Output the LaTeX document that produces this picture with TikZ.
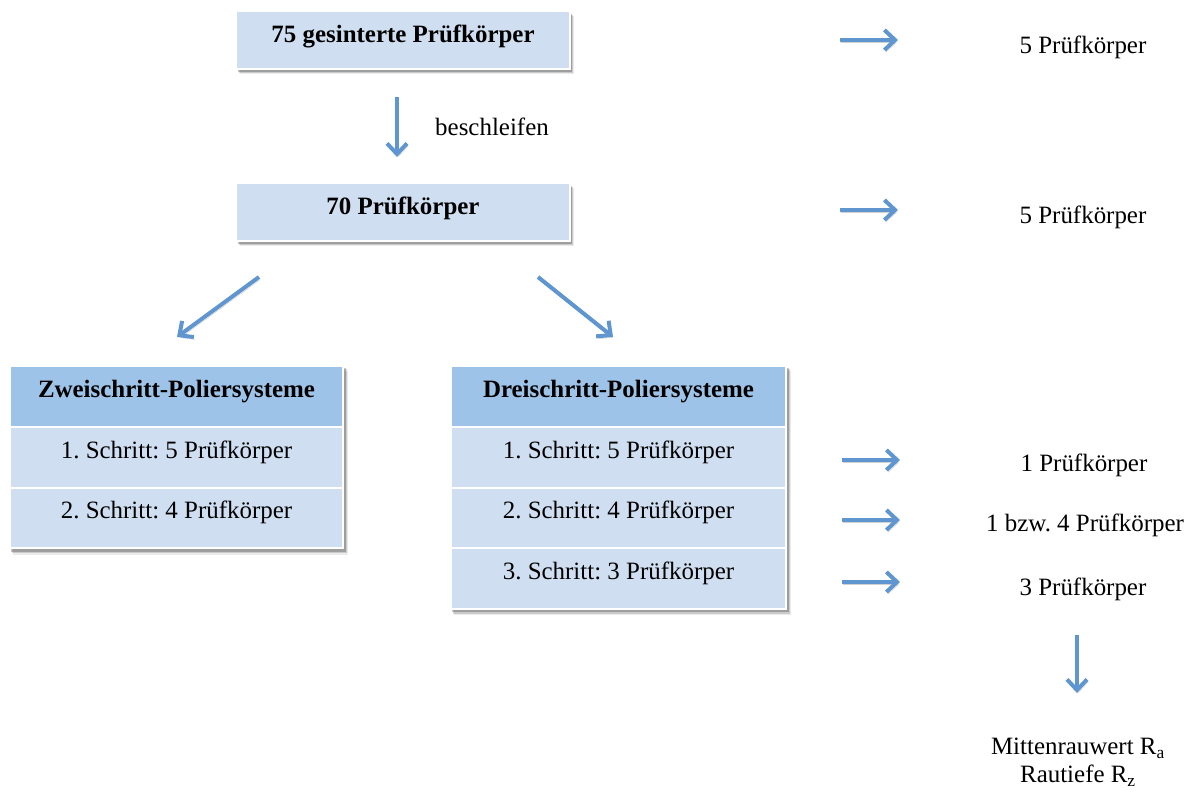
\documentclass[tikz,border=0pt]{standalone}
\usepackage{fontspec}
\setmainfont{Liberation Serif}
\usetikzlibrary{arrows.meta,shadows,backgrounds,fit}
\frenchspacing

\definecolor{cellfill}{RGB}{207,223,241}
\definecolor{headfill}{RGB}{158,195,232}
\definecolor{arrowblue}{RGB}{96,150,208}

\newcommand\bodysize{\fontsize{18.7pt}{21pt}\selectfont}

\tikzset{
  softshadow/.style={
    drop shadow={shadow xshift=1.2pt, shadow yshift=-2pt, opacity=.22, fill=black},
    drop shadow={shadow xshift=2.2pt, shadow yshift=-3pt, opacity=.14, fill=black},
    drop shadow={shadow xshift=3.2pt, shadow yshift=-4pt, opacity=.08, fill=black}},
  topbox/.style={rectangle, draw=white, line width=1.2pt, fill=cellfill,
    minimum width=250.5pt, minimum height=43.5pt, inner sep=0pt,
    font=\bodysize\bfseries, text height=0.7em, text depth=0.3em, softshadow},
  cell/.style={rectangle, draw=white, line width=1.5pt, fill=cellfill,
    minimum height=45.4pt, inner sep=0pt,
    font=\bodysize, text height=0.7em, text depth=0.6em},
  headcell/.style={cell, fill=headfill, font=\bodysize\bfseries},
  tabshadow/.style={rectangle, fill=white, draw=none, inner sep=0pt, softshadow},
  note/.style={font=\bodysize, inner sep=0pt, align=center},
  flowarrow/.style={draw=arrowblue, line width=3pt,
    -{Straight Barb[length=8pt,width=15pt]},
    preaction={draw=black, opacity=.18,
      transform canvas={shift={(1pt,-1.8pt)}}}}
}

\begin{document}
\begin{tikzpicture}[x=0.75pt,y=-0.75pt]
  \useasboundingbox (0,0) rectangle (1195,794);

  % main flow boxes
  \node[topbox] (sintered) at (403,40) {75 gesinterte Prüfkörper};
  \node[topbox] (ground) at (403,212) {70 Prüfkörper};

  % two-step polishing table
  \node[headcell, minimum width=249.75pt] (twohead) at (176.5,396.5) {Zweischritt-Poliersysteme};
  \node[cell, minimum width=249.75pt] (twoA) at (176.5,457.5) {1. Schritt: 5 Prüfkörper};
  \node[cell, minimum width=249.75pt] (twoB) at (176.5,518) {2. Schritt: 4 Prüfkörper};

  % three-step polishing table
  \node[headcell, minimum width=251.25pt] (threehead) at (618.5,396.5) {Dreischritt-Poliersysteme};
  \node[cell, minimum width=251.25pt] (threeA) at (618.5,457.5) {1. Schritt: 5 Prüfkörper};
  \node[cell, minimum width=251.25pt] (threeB) at (618.5,518) {2. Schritt: 4 Prüfkörper};
  \node[cell, minimum width=251.25pt] (threeC) at (618.5,578.5) {3. Schritt: 3 Prüfkörper};

  \begin{scope}[on background layer]
    \node[tabshadow, fit=(twohead)(twoB)] (twotab) {};
    \node[tabshadow, fit=(threehead)(threeC)] (threetab) {};
  \end{scope}

  % side notes
  \node[note] (n1) at (1083,47.5) {5 Prüfkörper};
  \node[note] (n2) at (1083,217.5) {5 Prüfkörper};
  \node[note] (n3) at (1084,465.5) {1 Prüfkörper};
  \node[note] (n4) at (1085,525.5) {1 bzw. 4 Prüfkörper};
  \node[note] (n5) at (1083,589.5) {3 Prüfkörper};
  \node[note] (grind) at (492,127) {beschleifen};
  \node[note] (rough) at (1078,762)
    {Mittenrauwert R\textsubscript{a}\\Rautiefe R\textsubscript{z}};

  % arrow end points
  \coordinate (g0) at (397,97);   \coordinate (g1) at (397,157);
  \coordinate (l0) at (259,277);  \coordinate (l1) at (177,337);
  \coordinate (r0) at (538,277);  \coordinate (r1) at (613,337);
  \coordinate (s10) at (840,40);  \coordinate (s11) at (898,40);
  \coordinate (s20) at (840,210); \coordinate (s21) at (898,210);
  \coordinate (s30) at (842,460); \coordinate (s31) at (900,460);
  \coordinate (s40) at (842,520); \coordinate (s41) at (900,520);
  \coordinate (s50) at (842,582); \coordinate (s51) at (900,582);
  \coordinate (d0) at (1077,635); \coordinate (d1) at (1077,693);

  \draw[flowarrow] (g0) -- (g1);
  \draw[flowarrow] (l0) -- (l1);
  \draw[flowarrow] (r0) -- (r1);
  \draw[flowarrow] (s10) -- (s11);
  \draw[flowarrow] (s20) -- (s21);
  \draw[flowarrow] (s30) -- (s31);
  \draw[flowarrow] (s40) -- (s41);
  \draw[flowarrow] (s50) -- (s51);
  \draw[flowarrow] (d0) -- (d1);
\end{tikzpicture}
\end{document}
